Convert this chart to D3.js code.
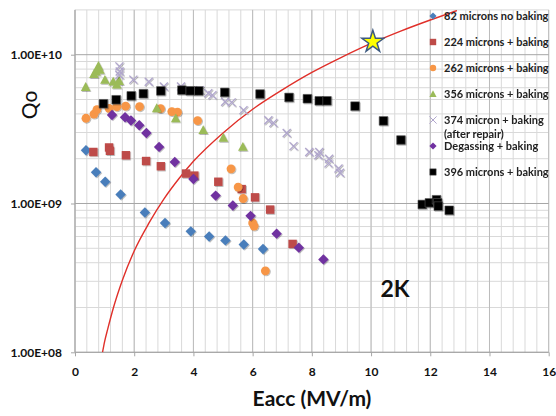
<!DOCTYPE html>
<html>
<head>
<meta charset="utf-8">
<script src="https://cdn.jsdelivr.net/npm/d3@7"></script>
<style>
  body { margin: 0; background: #fff; }
  text { font-family: Lato, "Open Sans", sans-serif; }
</style>
</head>
<body>
<div id="chart"></div>
<script>
var width = 556,
    height = 416;

// axis ticks
var xTicks = [0, 2, 4, 6, 8, 10, 12, 14, 16];
var yTicks = [1e8, 1e9, 1e10];
var yTickLabels = ["1.00E+08", "1.00E+09", "1.00E+10"];

// series (Eacc in MV/m, Qo)
var names = ["82 microns no baking", "224 microns + baking", "262 microns + baking",
             "356 microns + baking", "374 micron + baking", "Degassing + baking", "396 microns + baking"];

var e82 = [0.37, 0.71, 1.02, 1.54, 2.36, 3.04, 3.91, 4.53, 5.08, 5.70, 6.35];
var q82 = [2.28e9, 1.62e9, 1.40e9, 1.15e9, 8.7e8, 7.4e8, 6.5e8, 6.0e8, 5.65e8, 5.3e8, 4.95e8];

var e224 = [0.62, 1.15, 1.18, 1.72, 2.40, 2.90, 3.75, 4.03, 4.84, 5.63, 6.08, 6.59, 7.35];
var q224 = [2.22e9, 2.38e9, 2.26e9, 2.11e9, 1.93e9, 1.78e9, 1.59e9, 1.54e9, 1.40e9, 1.25e9, 1.10e9, 9.1e8, 5.35e8];

var e262 = [0.37, 0.64, 0.74, 1.15, 1.41, 1.71, 2.18, 2.89, 3.27, 3.46, 4.14, 5.27, 5.51, 5.68, 6.00, 6.05, 6.43];
var q262 = [3.74e9, 3.99e9, 4.28e9, 4.36e9, 4.47e9, 4.51e9, 4.47e9, 4.34e9, 4.15e9, 4.11e9, 3.61e9, 1.71e9, 1.29e9, 1.08e9, 7.4e8, 7.05e8, 3.53e8];

var e356 = [0.36, 0.64, 0.71, 0.79, 0.84, 1.01, 1.29, 1.41, 1.49, 2.76, 3.40, 4.33, 5.01, 5.67];
var q356 = [6.06e9, 7.41e9, 7.69e9, 8.39e9, 7.89e9, 6.76e9, 6.58e9, 6.30e9, 6.65e9, 4.36e9, 3.73e9, 3.11e9, 2.76e9, 2.40e9];

var e374 = [1.50, 1.51, 1.50, 1.97, 2.49, 3.00, 3.58, 4.22, 4.50, 4.64, 5.07, 5.29, 5.69, 6.53, 6.70,
            7.15, 7.38, 7.91, 8.22, 8.25, 8.58, 8.56, 8.90, 8.95];
var q374 = [8.35e9, 7.71e9, 7.30e9, 6.80e9, 6.58e9, 6.12e9, 6.11e9, 5.78e9, 5.50e9, 5.35e9, 4.83e9, 4.78e9, 4.24e9, 3.63e9, 3.48e9,
            2.98e9, 2.43e9, 2.22e9, 2.11e9, 2.22e9, 2.00e9, 1.86e9, 1.72e9, 1.61e9];

var eDeg = [1.25, 1.69, 1.89, 2.17, 2.41, 2.84, 3.37, 4.00, 4.75, 5.33, 5.93, 6.81, 7.56, 8.39];
var qDeg = [3.93e9, 3.80e9, 3.61e9, 3.36e9, 2.98e9, 2.40e9, 1.90e9, 1.46e9, 1.13e9, 9.7e8, 8.26e8, 6.27e8, 5.05e8, 4.21e8];

var e396 = [0.96, 1.39, 1.90, 2.31, 2.90, 3.61, 3.89, 4.18, 5.06, 6.25, 7.23, 7.85, 8.25, 8.51, 9.46, 10.42, 11.01,
            11.73, 11.97, 12.21, 12.25, 12.27, 12.64];
var q396 = [4.68e9, 4.98e9, 5.29e9, 5.47e9, 5.71e9, 5.78e9, 5.72e9, 5.71e9, 5.58e9, 5.44e9, 5.16e9, 5.06e9, 4.90e9, 4.90e9, 4.51e9, 3.59e9, 2.67e9,
            9.85e8, 1.01e9, 1.06e9, 1.01e9, 9.6e8, 9.0e8];

// red curve
var eCurve = [0.93, 1.0, 1.1, 1.3, 1.6, 2.0, 2.5, 3.0, 3.5, 4.0, 5.0, 6.0, 7.0, 8.0, 9.0, 10.0, 11.0, 12.0, 12.9];
var qCurve = [1.0e8, 1.18e8, 1.42e8, 2.0e8, 3.05e8, 4.8e8, 7.4e8, 1.07e9, 1.46e9, 1.92e9, 2.98e9, 4.3e9, 5.8e9, 7.6e9, 9.6e9, 1.19e10, 1.44e10, 1.71e10, 1.98e10];

// star
var eStar = 10.06, qStar = 1.22e10;

var svg = d3.select('#chart').append('svg')
        .attr('width', width)
        .attr('height', height);

var x = d3.scaleLinear().domain([0, 16]).range([75, 548.7]);
var y = d3.scaleLog().domain([1e8, 2e10]).range([352.3, 9.9]);

var defs = svg.append('defs');
defs.append('clipPath').attr('id', 'plotClip')
        .append('rect').attr('x', x(0)).attr('y', y(2e10)).attr('width', x(16) - x(0)).attr('height', y(1e8) - y(2e10));
var shadow = defs.append('filter').attr('id', 'shd').attr('x', '-50%').attr('y', '-50%').attr('width', '200%').attr('height', '200%');
shadow.append('feDropShadow').attr('dx', 0.8).attr('dy', 0.8).attr('stdDeviation', 0.7)
        .attr('flood-color', '#000').attr('flood-opacity', 0.35);

//Gridlines
var grid = svg.append('g');
var xMinor = d3.range(0, 80).map(function (i) { return i * 0.4; }).filter(function (v) { return v <= 16.001; });
grid.selectAll('line.xminor').data(xMinor).enter().append('line')
        .attr('x1', function (d) { return x(d); }).attr('x2', function (d) { return x(d); })
        .attr('y1', y(2e10)).attr('y2', y(1e8))
        .attr('stroke', '#d9d9d9').attr('stroke-width', 1);
var yMinor = [];
[1e8, 1e9, 1e10].forEach(function (dec) {
    for (var m = 2; m <= 9; m++) {
        if (m * dec <= 2e10) yMinor.push(m * dec);
    }
});
grid.selectAll('line.yminor').data(yMinor).enter().append('line')
        .attr('x1', x(0)).attr('x2', x(16))
        .attr('y1', function (d) { return y(d); }).attr('y2', function (d) { return y(d); })
        .attr('stroke', '#d9d9d9').attr('stroke-width', 1);
grid.selectAll('line.xmajor').data(xTicks).enter().append('line')
        .attr('x1', function (d) { return x(d); }).attr('x2', function (d) { return x(d); })
        .attr('y1', y(2e10)).attr('y2', y(1e8))
        .attr('stroke', '#bcbcbc').attr('stroke-width', 1);
grid.selectAll('line.ymajor').data(yTicks).enter().append('line')
        .attr('x1', x(0)).attr('x2', x(16))
        .attr('y1', function (d) { return y(d); }).attr('y2', function (d) { return y(d); })
        .attr('stroke', '#a6a6a6').attr('stroke-width', 1);

//Axes
var xAxis = d3.axisBottom(x).tickValues(xTicks).tickSize(4).tickPadding(11).tickFormat(d3.format('d'));
var gx = svg.append('g').attr('transform', 'translate(0,' + y(1e8) + ')').call(xAxis);
var yAxis = d3.axisLeft(y).tickValues(yTicks).tickSize(4).tickPadding(9)
        .tickFormat(function (d, i) { return yTickLabels[i]; });
var gy = svg.append('g').attr('transform', 'translate(' + x(0) + ',0)').call(yAxis);
[gx, gy].forEach(function (g) {
    g.select('.domain').attr('stroke', '#a6a6a6');
    g.selectAll('.tick line').attr('stroke', '#a6a6a6');
    g.selectAll('.tick text').attr('fill', '#111').attr('font-size', 12).attr('font-weight', 'bold')
            .style('font-family', 'Lato, sans-serif');
});
gy.select('.domain').attr('d', 'M0,' + y(1e8) + 'V' + y(2e10));
gx.select('.domain').attr('d', 'M' + x(0) + ',0H' + x(16));

//Titles
svg.append('text').attr('x', 312).attr('y', 406).attr('text-anchor', 'middle')
        .attr('font-size', 21).attr('font-weight', 'bold').attr('fill', '#111').text('Eacc (MV/m)');
svg.append('text').attr('transform', 'translate(37,105)rotate(-90)').attr('text-anchor', 'middle')
        .attr('font-size', 21).attr('fill', '#111').text('Qo');
svg.append('text').attr('x', 395).attr('y', 297).attr('text-anchor', 'middle')
        .attr('font-size', 23).attr('font-weight', 'bold').attr('fill', '#111').text('2K');

//Markers
function markerPath(type, r) {
    var p = d3.path();
    if (type === 'diamond') {
        p.moveTo(0, -r); p.lineTo(r, 0); p.lineTo(0, r); p.lineTo(-r, 0); p.closePath();
    } else if (type === 'square') {
        p.rect(-r, -r, 2 * r, 2 * r);
    } else if (type === 'circle') {
        p.arc(0, 0, r, 0, 2 * Math.PI);
    } else if (type === 'triangle') {
        p.moveTo(0, -r * 1.05); p.lineTo(r, r * 0.8); p.lineTo(-r, r * 0.8); p.closePath();
    } else if (type === 'x') {
        p.moveTo(-r, -r); p.lineTo(r, r); p.moveTo(r, -r); p.lineTo(-r, r);
    }
    return p.toString();
}

var styles = [
    {type: 'diamond', r: 5.2, fill: '#4a7ebb', stroke: 'none', lr: 3.6},
    {type: 'square', r: 4.2, fill: '#be4b48', stroke: 'none', lr: 3.2},
    {type: 'circle', r: 4.4, fill: '#f79646', stroke: 'none', lr: 3.2},
    {type: 'triangle', r: 4.8, fill: '#9bbb59', stroke: 'none', lr: 3.6},
    {type: 'x', r: 4.0, fill: 'none', stroke: '#b0a6cc', lr: 3.6},
    {type: 'diamond', r: 5.2, fill: '#7030a0', stroke: 'none', lr: 3.6},
    {type: 'square', r: 4.3, fill: '#000', stroke: '#555', lr: 3.2}
];

var seriesE = [e82, e224, e262, e356, e374, eDeg, e396];
var seriesQ = [q82, q224, q262, q356, q374, qDeg, q396];
var table = seriesE.map(function (es, s) {
    return es.map(function (e, i) { return {e: e, q: seriesQ[s][i], s: s}; });
});

//Red curve
var curveData = eCurve.map(function (e, i) { return [e, qCurve[i]]; });
svg.append('path').datum(curveData)
        .attr('clip-path', 'url(#plotClip)')
        .attr('fill', 'none').attr('stroke', '#e0302a').attr('stroke-width', 1.4)
        .attr('d', d3.line().x(function (d) { return x(d[0]); }).y(function (d) { return y(d[1]); }).curve(d3.curveMonotoneX));

var points = svg.append('g');
table.forEach(function (rows, s) {
    var st = styles[s];
    points.append('g').attr('filter', 'url(#shd)').selectAll('path').data(rows).enter().append('path')
            .attr('transform', function (d) { return 'translate(' + x(d.e) + ',' + y(d.q) + ')'; })
            .attr('d', markerPath(st.type, st.r))
            .attr('fill', st.fill)
            .attr('stroke', st.stroke)
            .attr('stroke-width', st.type === 'x' ? 1.3 : 0.6);
});

//Star
var star = d3.symbol().type(d3.symbolStar).size(150);
svg.append('path').attr('transform', 'translate(' + x(eStar) + ',' + y(qStar) + ')')
        .attr('d', star()).attr('fill', '#ffff00').attr('stroke', '#3d5a80').attr('stroke-width', 1.5);

//Legend
var legendY = [16, 42, 68, 94, 120, 146, 172];
var legend = svg.append('g');
names.forEach(function (n, i) {
    var st = styles[i];
    legend.append('path').attr('transform', 'translate(433,' + legendY[i] + ')')
            .attr('d', markerPath(st.type, st.lr))
            .attr('fill', st.fill).attr('stroke', st.stroke).attr('stroke-width', st.type === 'x' ? 1 : 0.5);
    legend.append('text').attr('x', 444).attr('y', legendY[i] + 4)
            .attr('font-size', 11).attr('font-weight', 'bold').attr('fill', '#222').text(n);
});
legend.append('text').attr('x', 444).attr('y', 138)
        .attr('font-size', 11).attr('font-weight', 'bold').attr('fill', '#222').text('(after repair)');
</script>
</body>
</html>
